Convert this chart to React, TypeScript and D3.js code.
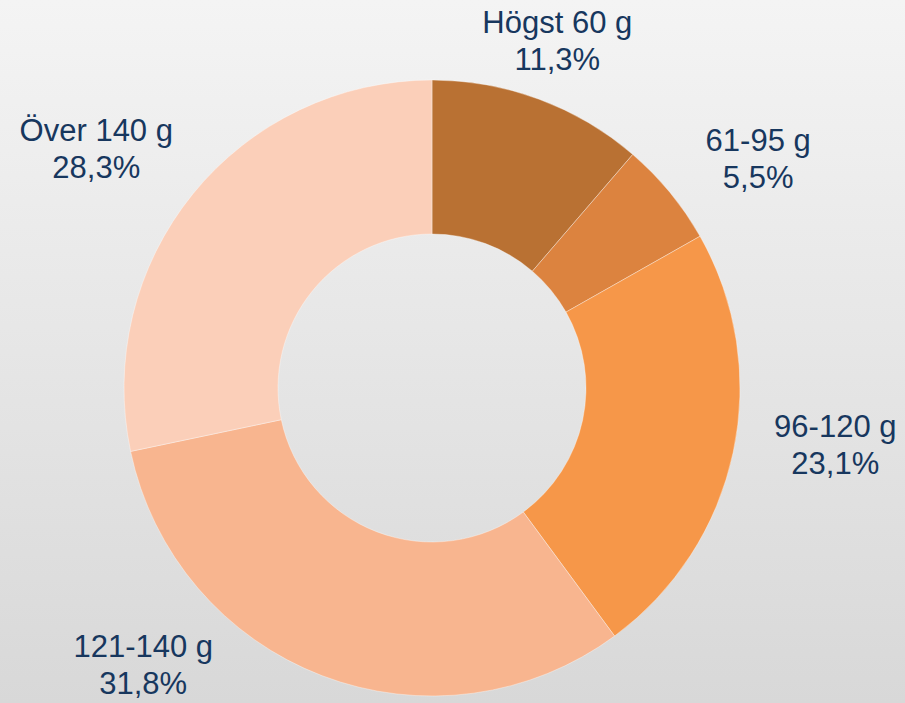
import React, { useRef, useEffect } from 'react';
import * as d3 from 'd3';

const categories = ['Högst 60 g', '61-95 g', '96-120 g', '121-140 g', 'Över 140 g'];
const shares = [11.3, 5.5, 23.1, 31.8, 28.3];
const percentLabels = ['11,3%', '5,5%', '23,1%', '31,8%', '28,3%'];
const sliceColors = ['#B97133', '#DC833F', '#F69749', '#F8B58F', '#FBCFB9'];

// nudges applied to the outer label anchor so labels sit where Excel put them
const labelNudge: [number, number][] = [
  [-12, 24],
  [21, 23],
  [17, -25],
  [-148, -91],
  [-29, 11],
];

const App = () => {
  const svgRef = useRef<SVGSVGElement>(null);

  useEffect(() => {
    const width = 905;
    const height = 703;
    const cx = 432;
    const cy = 388;
    const outerR = 308;
    const innerR = 154;

    d3.select(svgRef.current).selectAll('*').remove();

    const svg = d3.select(svgRef.current)
      .attr('width', width)
      .attr('height', height);

    const grad = svg.append('defs').append('linearGradient')
      .attr('id', 'bg')
      .attr('x1', 0).attr('y1', 0)
      .attr('x2', 0).attr('y2', 1);
    grad.append('stop').attr('offset', '0%').attr('stop-color', '#F4F4F4');
    grad.append('stop').attr('offset', '100%').attr('stop-color', '#D8D8D8');

    svg.append('rect')
      .attr('width', width)
      .attr('height', height)
      .attr('fill', 'url(#bg)');

    const data = categories.map((c, i) => ({ name: c, value: shares[i], pct: percentLabels[i], i }));

    const pie = d3.pie<any>().sort(null).value(d => d.value);
    const arcs = pie(data);

    const arc = d3.arc<any>().innerRadius(innerR).outerRadius(outerR);
    const labelArc = d3.arc<any>().innerRadius(395).outerRadius(395);

    const g = svg.append('g').attr('transform', `translate(${cx},${cy})`);

    g.selectAll('path')
      .data(arcs)
      .enter().append('path')
      .attr('d', arc)
      .attr('fill', d => sliceColors[d.data.i])
      .attr('stroke', 'rgba(255,255,255,0.45)')
      .attr('stroke-width', 0.8);

    const labels = g.selectAll('text')
      .data(arcs)
      .enter().append('text')
      .attr('text-anchor', 'middle')
      .attr('font-family', '"Liberation Sans", Arial, sans-serif')
      .attr('font-size', 31)
      .attr('fill', '#17375E')
      .attr('transform', d => {
        const [x, y] = labelArc.centroid(d);
        const [nx, ny] = labelNudge[d.data.i];
        return `translate(${x + nx},${y + ny})`;
      });

    labels.append('tspan')
      .attr('x', 0)
      .attr('y', -9)
      .text(d => d.data.name);

    labels.append('tspan')
      .attr('x', 0)
      .attr('y', 28)
      .text(d => d.data.pct);
  }, []);

  return (
    <svg ref={svgRef} style={{ position: 'absolute', left: 0, top: 0, display: 'block' }}></svg>
  );
};

export default App;
